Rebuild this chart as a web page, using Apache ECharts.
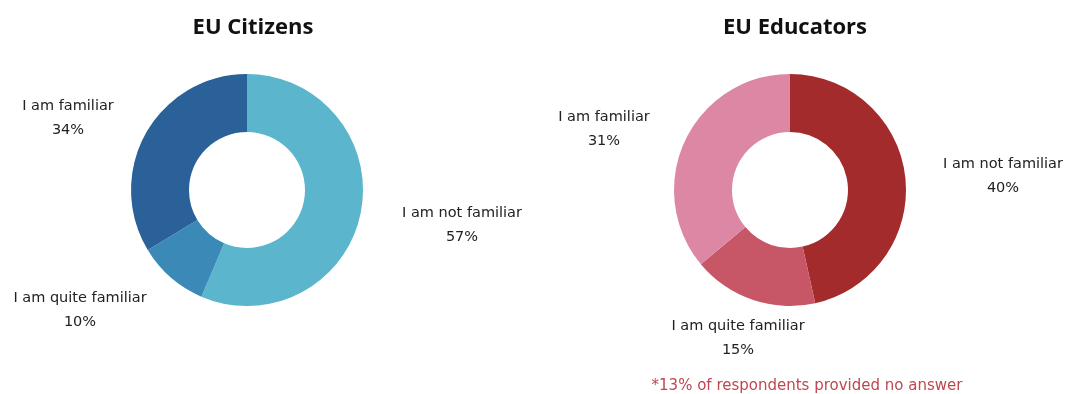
<!DOCTYPE html>
<html><head><meta charset="utf-8">
<script src="https://cdn.jsdelivr.net/npm/echarts@6/dist/echarts.min.js"></script>
<style>html,body{margin:0;padding:0;background:#fff}#c{width:1067px;height:394px}</style>
</head><body><div id="c"></div>
<script>
const categories = ['I am not familiar', 'I am quite familiar', 'I am familiar'];
const citizensValues = [57, 10, 34];
const educatorsValues = [40, 15, 31];
const titles = ['EU Citizens', 'EU Educators'];
const footnote = '*13% of respondents provided no answer';

const citizensColors = ['#5BB5CC', '#3A89B6', '#2A6198'];
const educatorsColors = ['#A42B2B', '#C75766', '#DC88A4'];
// label anchor positions (px) per category
const citizensLabelPos = [[462, 225], [80, 310], [68, 118]];
const educatorsLabelPos = [[1003, 176], [738, 338], [604, 129]];

function makePie(values, colors, labelPos, center) {
  return {
    type: 'pie',
    radius: [58, 116],
    center: center,
    startAngle: 90,
    clockwise: true,
    silent: true,
    data: categories.map((c, i) => ({ name: c, value: values[i], itemStyle: { color: colors[i] } })),
    label: {
      show: true,
      position: 'outside',
      alignTo: 'none',
      overflow: 'none',
      formatter: p => p.name + '\n' + p.value + '%',
      fontFamily: 'DejaVu Sans',
      fontSize: 14.5,
      lineHeight: 24,
      color: '#222',
      align: 'center'
    },
    labelLine: { show: false },
    labelLayout: p => ({ x: labelPos[p.dataIndex][0], y: labelPos[p.dataIndex][1], align: 'center', verticalAlign: 'middle', width: 200 }),
    animation: false
  };
}

const chart = echarts.init(document.getElementById('c'));
chart.setOption({
  animation: false,
  title: [
    { text: titles[0], left: 248, top: 12, textAlign: 'center', textStyle: { fontFamily: 'Open Sans', fontWeight: 'bold', fontSize: 22, color: '#111' } },
    { text: titles[1], left: 790, top: 12, textAlign: 'center', textStyle: { fontFamily: 'Open Sans', fontWeight: 'bold', fontSize: 22, color: '#111' } },
    { text: footnote, left: 802, top: 374, textAlign: 'center', textStyle: { fontFamily: 'DejaVu Sans', fontWeight: 'normal', fontSize: 15, color: '#C0474F' } }
  ],
  series: [
    makePie(citizensValues, citizensColors, citizensLabelPos, [247, 190]),
    makePie(educatorsValues, educatorsColors, educatorsLabelPos, [790, 190])
  ]
});
</script></body></html>
